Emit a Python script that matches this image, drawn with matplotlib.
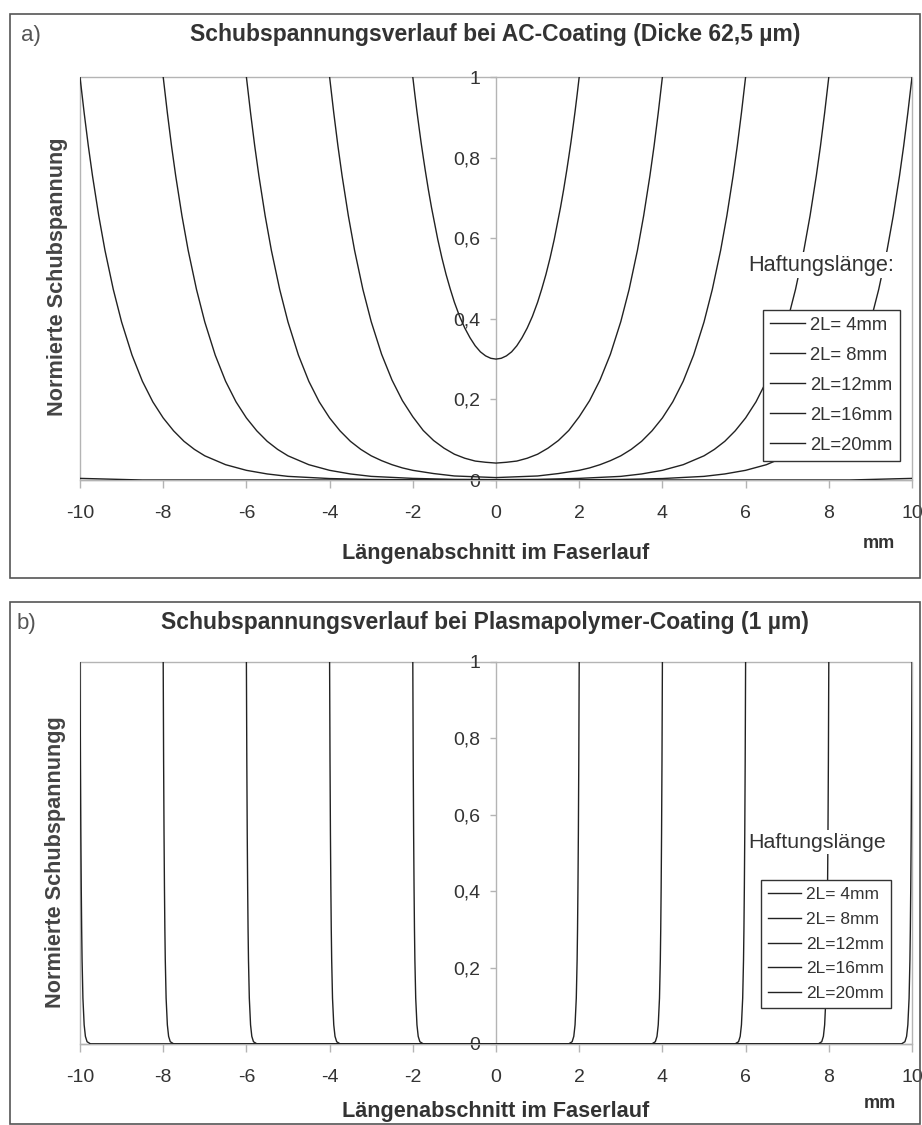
import numpy as np
import matplotlib
matplotlib.use("Agg")
import matplotlib.pyplot as plt
from matplotlib.lines import Line2D
from matplotlib.patches import Rectangle

plt.rcParams['font.family'] = ['Liberation Sans', 'DejaVu Sans']

W, H = 922, 1125

# ---------------- data ----------------
legend_labels = ["2L= 4mm", "2L= 8mm", "2L=12mm", "2L=16mm", "2L=20mm"]
x_ticks = [-10, -8, -6, -4, -2, 0, 2, 4, 6, 8, 10]
x_tick_labels = ["-10", "-8", "-6", "-4", "-2", "0", "2", "4", "6", "8", "10"]
y_ticks = [0, 0.2, 0.4, 0.6, 0.8, 1.0]
y_tick_labels = ["0", "0,2", "0,4", "0,6", "0,8", "1"]

# Panel a (AC-Coating) - half profiles for x >= 0 (curves are symmetric)
a_x_4 = [0, 0.125, 0.25, 0.375, 0.5, 0.625, 0.75, 0.875, 1.0, 1.1, 1.2, 1.3, 1.4, 1.55,
         1.625, 1.7, 1.75, 1.8, 1.85, 1.9, 1.95, 2.0]
a_y_4 = [0.300, 0.302, 0.308, 0.318, 0.333, 0.353, 0.377, 0.406, 0.441, 0.474, 0.510, 0.551,
         0.597, 0.676, 0.720, 0.768, 0.802, 0.837, 0.875, 0.914, 0.956, 1.0]

a_x_8 = [0, 0.25, 0.5, 0.75, 1.0, 1.25, 1.5, 1.75, 2.0, 2.25, 2.5, 2.75, 3.0, 3.2, 3.4, 3.55,
         3.7, 3.8, 3.9, 4.0]
a_y_8 = [0.042, 0.044, 0.047, 0.054, 0.064, 0.079, 0.098, 0.123, 0.157, 0.197, 0.248, 0.312,
         0.393, 0.473, 0.570, 0.656, 0.755, 0.829, 0.911, 1.0]

a_x_12 = [0, 0.5, 1.0, 1.5, 2.0, 2.25, 2.5, 2.75, 3.0, 3.25, 3.5, 3.75, 4.0, 4.25, 4.5, 4.75,
          5.0, 5.2, 5.4, 5.55, 5.7, 5.8, 5.9, 6.0]
a_y_12 = [0.006, 0.008, 0.010, 0.016, 0.024, 0.030, 0.038, 0.048, 0.060, 0.076, 0.096, 0.122,
          0.154, 0.194, 0.245, 0.310, 0.392, 0.473, 0.570, 0.656, 0.755, 0.829, 0.911, 1.0]

a_x_16 = [0, 1.0, 2.0, 3.0, 3.5, 4.0, 4.5, 5.0, 5.25, 5.5, 5.75, 6.0, 6.25, 6.5, 6.75, 7.0,
          7.2, 7.4, 7.55, 7.7, 7.8, 7.9, 8.0]
a_y_16 = [0.001, 0.0016, 0.004, 0.009, 0.015, 0.024, 0.038, 0.060, 0.076, 0.096, 0.122, 0.154,
          0.194, 0.245, 0.310, 0.392, 0.473, 0.570, 0.656, 0.755, 0.829, 0.911, 1.0]

a_x_20 = [0, 2.0, 3.0, 4.0, 5.0, 5.5, 6.0, 6.5, 7.0, 7.25, 7.5, 7.75, 8.0, 8.25, 8.5, 8.75,
          9.0, 9.2, 9.4, 9.55, 9.7, 9.8, 9.9, 10.0]
a_y_20 = [0.0002, 0.0006, 0.0014, 0.0036, 0.009, 0.015, 0.024, 0.038, 0.060, 0.076, 0.096,
          0.122, 0.154, 0.194, 0.245, 0.310, 0.392, 0.473, 0.570, 0.656, 0.755, 0.829, 0.911, 1.0]

# faint residual line along the bottom of panel a
a_tail_x = [-10, -9.6, -8.5, 8.5, 9.6, 10]
a_tail_y = [0.004, 0.003, 0.0, 0.0, 0.003, 0.004]

# Panel b (Plasmapolymer-Coating) - half profiles for x >= 0
b_x_4 = [0, 1.75, 1.83, 1.87, 1.90, 1.93, 1.95, 1.96, 1.97, 1.98, 1.99, 2.0]
b_y_4 = [0, 0.0005, 0.006, 0.02, 0.05, 0.12, 0.22, 0.30, 0.41, 0.55, 0.74, 1.0]
b_x_8 = [0, 3.75, 3.83, 3.87, 3.90, 3.93, 3.95, 3.96, 3.97, 3.98, 3.99, 4.0]
b_y_8 = [0, 0.0005, 0.006, 0.02, 0.05, 0.12, 0.22, 0.30, 0.41, 0.55, 0.74, 1.0]
b_x_12 = [0, 5.75, 5.83, 5.87, 5.90, 5.93, 5.95, 5.96, 5.97, 5.98, 5.99, 6.0]
b_y_12 = [0, 0.0005, 0.006, 0.02, 0.05, 0.12, 0.22, 0.30, 0.41, 0.55, 0.74, 1.0]
b_x_16 = [0, 7.75, 7.83, 7.87, 7.90, 7.93, 7.95, 7.96, 7.97, 7.98, 7.99, 8.0]
b_y_16 = [0, 0.0005, 0.006, 0.02, 0.05, 0.12, 0.22, 0.30, 0.41, 0.55, 0.74, 1.0]
b_x_20 = [0, 9.75, 9.83, 9.87, 9.90, 9.93, 9.95, 9.96, 9.97, 9.98, 9.99, 10.0]
b_y_20 = [0, 0.0005, 0.006, 0.02, 0.05, 0.12, 0.22, 0.30, 0.41, 0.55, 0.74, 1.0]

a_series = [(a_x_4, a_y_4), (a_x_8, a_y_8), (a_x_12, a_y_12), (a_x_16, a_y_16), (a_x_20, a_y_20)]
b_series = [(b_x_4, b_y_4), (b_x_8, b_y_8), (b_x_12, b_y_12), (b_x_16, b_y_16), (b_x_20, b_y_20)]

TXT = '#333333'
LINE = '#222222'
GRAY = '#b4b4b4'


def mirror(x, y):
    x = np.asarray(x, float)
    y = np.asarray(y, float)
    return np.concatenate([-x[::-1], x[1:]]), np.concatenate([y[::-1], y[1:]])


def fx(px):
    return px / W


def fy(py):
    return 1 - py / H


fig = plt.figure(figsize=(W / 100, H / 100), dpi=100)

# panel frames
for (x0, y0, x1, y1) in [(10, 14, 920, 578), (10, 602, 920, 1124)]:
    fig.patches.append(Rectangle((fx(x0), fy(y1)), fx(x1) - fx(x0), fy(y0) - fy(y1),
                                 transform=fig.transFigure, fill=False,
                                 ec='#555555', lw=1.2))


def setup_axes(ax):
    ax.set_xlim(-10, 10)
    ax.set_ylim(0, 1)
    ax.spines['left'].set_position(('data', 0))
    for s in ['left', 'bottom']:
        ax.spines[s].set_color(GRAY)
        ax.spines[s].set_linewidth(1.0)
    ax.spines['top'].set_visible(False)
    ax.spines['right'].set_visible(False)
    ax.add_patch(Rectangle((0, 0), 1, 1, transform=ax.transAxes, fill=False,
                           ec=GRAY, lw=1.0, zorder=0.5, clip_on=False))
    ax.set_xticks(x_ticks)
    ax.set_xticklabels(x_tick_labels)
    ax.set_yticks(y_ticks)
    ax.set_yticklabels(y_tick_labels)
    ax.tick_params(axis='x', direction='out', length=6, width=1, color=GRAY,
                   labelsize=14, labelcolor=TXT, pad=12)
    ax.tick_params(axis='y', direction='out', length=4.5, width=1, color=GRAY,
                   labelsize=14, labelcolor=TXT, pad=7)
    ax.patch.set_alpha(0)


def style_legend(leg):
    fr = leg.get_frame()
    fr.set_edgecolor('#333333')
    fr.set_linewidth(1.0)
    fr.set_alpha(1)
    for t in leg.get_texts():
        t.set_color(TXT)
    leg.set_zorder(10)


# ---------------- panel a ----------------
ax_a = fig.add_axes([fx(80), fy(480), (912 - 80) / W, (480 - 77) / H])
setup_axes(ax_a)
for (xs, ys) in a_series:
    X, Y = mirror(xs, ys)
    ax_a.plot(X, Y, color=LINE, lw=1.0, zorder=3)
ax_a.plot(a_tail_x, a_tail_y, color=LINE, lw=1.0, zorder=3)

handles = [Line2D([], [], color=LINE, lw=1.0) for _ in legend_labels]
leg_a = ax_a.legend(handles, legend_labels, loc='lower left',
                    bbox_to_anchor=((763 - 80) / 832, (480 - 461) / 403),
                    frameon=True, fancybox=False, fontsize=13.3, handlelength=1.85,
                    handletextpad=0.3, labelspacing=0.7, borderpad=0.4,
                    borderaxespad=0)
style_legend(leg_a)

# ---------------- panel b ----------------
ax_b = fig.add_axes([fx(80), fy(1044), (912 - 80) / W, (1044 - 662) / H])
setup_axes(ax_b)
for (xs, ys) in b_series:
    X, Y = mirror(xs, ys)
    ax_b.plot(X, Y, color=LINE, lw=1.0, zorder=3)

leg_b = ax_b.legend(handles, legend_labels, loc='lower left',
                    bbox_to_anchor=((761 - 80) / 832, (1044 - 1008) / 382),
                    frameon=True, fancybox=False, fontsize=12.5, handlelength=1.9,
                    handletextpad=0.3, labelspacing=0.55, borderpad=0.4,
                    borderaxespad=0)
style_legend(leg_b)

# ---------------- texts ----------------
fig.text(fx(21), fy(35), "a)", fontsize=16, color='#555555', ha='left', va='center')
fig.text(fx(17), fy(624), "b)", fontsize=16, color='#555555', ha='left', va='center')

fig.text(fx(495), fy(35), "Schubspannungsverlauf bei AC-Coating (Dicke 62,5 µm)",
         fontsize=16.5, fontweight='bold', color=TXT, ha='center', va='center')
fig.text(fx(485), fy(623), "Schubspannungsverlauf bei Plasmapolymer-Coating (1 µm)",
         fontsize=16.5, fontweight='bold', color=TXT, ha='center', va='center')

fig.text(fx(57), fy(277), "Normierte Schubspannung", rotation=90,
         fontsize=15.6, fontweight='bold', color='#444444', ha='center', va='center')
fig.text(fx(55), fy(862), "Normierte Schubspannungg", rotation=90,
         fontsize=15.6, fontweight='bold', color='#444444', ha='center', va='center')

fig.text(fx(496), fy(554), "Längenabschnitt im Faserlauf",
         fontsize=15.6, fontweight='bold', color=TXT, ha='center', va='center')
fig.text(fx(496), fy(1112), "Längenabschnitt im Faserlauf",
         fontsize=15.6, fontweight='bold', color=TXT, ha='center', va='center')

fig.text(fx(879), fy(543), "mm", fontsize=13, fontweight='bold', color=TXT,
         ha='center', va='center')
fig.text(fx(880), fy(1104), "mm", fontsize=13, fontweight='bold', color=TXT,
         ha='center', va='center')

fig.text(fx(748), fy(265), "Haftungslänge:", fontsize=15.7, color=TXT,
         ha='left', va='center', zorder=20,
         bbox=dict(boxstyle='square,pad=0.1', fc='white', ec='none'))
fig.text(fx(748), fy(842), "Haftungslänge", fontsize=15.4, color=TXT,
         ha='left', va='center', zorder=20,
         bbox=dict(boxstyle='square,pad=0.1', fc='white', ec='none'))

fig.savefig("out.png", dpi=100, facecolor='white')
